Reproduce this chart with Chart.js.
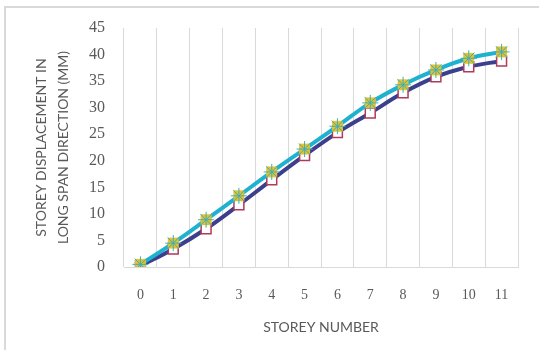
<!DOCTYPE html>
<html>
<head>
<meta charset="utf-8">
<script src="https://cdn.jsdelivr.net/npm/chart.js@4/dist/chart.umd.min.js"></script>
<style>
  body { margin: 0; background: #fff; }
  #wrap { width: 539px; height: 350px; position: relative; }
</style>
</head>
<body>
<div id="wrap"><canvas id="grafica" width="539" height="350"></canvas></div>
<script>
// datos
const storeys = ["0", "1", "2", "3", "4", "5", "6", "7", "8", "9", "10", "11"];
const dispCyan = [0.5, 4.5, 8.9, 13.4, 17.9, 22.2, 26.5, 30.9, 34.3, 37.1, 39.3, 40.5];
const dispNavy = [0.2, 3.4, 7.2, 11.7, 16.4, 21.0, 25.3, 29.0, 32.8, 35.8, 37.7, 38.8];
const yTicks = [0, 5, 10, 15, 20, 25, 30, 35, 40, 45];

const grisTexto = "#595959";

// marco gris a la izquierda y arriba
const marco = {
  id: "marco",
  beforeDraw(chart) {
    const c = chart.ctx;
    c.save();
    c.fillStyle = "#fff";
    c.fillRect(0, 0, chart.width, chart.height);
    c.strokeStyle = "#d9d9d9";
    c.lineWidth = 2;
    c.beginPath();
    c.moveTo(5, chart.height);
    c.lineTo(5, 7);
    c.lineTo(chart.width, 7);
    c.stroke();
    c.restore();
  }
};

const config = {
  type: "line",
  data: {
    labels: storeys,
    datasets: [
      {
        label: "Serie 1",
        data: dispNavy,
        borderColor: "#3b3f8c",
        borderWidth: 4,
        tension: 0.4,
        pointStyle: "rect",
        pointRadius: 7,
        pointBackgroundColor: "#ffffff",
        pointBorderColor: "#b03a5a",
        pointBorderWidth: 1.5,
        order: 3
      },
      {
        label: "Serie 2",
        data: dispCyan,
        borderColor: "#1fb2d0",
        borderWidth: 4,
        tension: 0.4,
        pointStyle: "rect",
        pointRadius: 7,
        pointBackgroundColor: "#e3c22b",
        pointBorderColor: "#e3c22b",
        pointBorderWidth: 1,
        order: 2
      },
      {
        label: "Serie 3",
        data: dispCyan,
        showLine: false,
        pointStyle: "star",
        pointRadius: 8,
        pointBorderColor: "#3aaec0",
        pointBorderWidth: 1,
        order: 1
      }
    ]
  },
  options: {
    responsive: false,
    animation: false,
    layout: { padding: { left: 0, right: 21, top: 28, bottom: 0 } },
    plugins: {
      legend: { display: false },
      tooltip: { enabled: false }
    },
    scales: {
      x: {
        offset: true,
        grid: { offset: true, color: "#d9d9d9", lineWidth: 1, drawTicks: false },
        border: { color: "#d9d9d9" },
        ticks: { color: grisTexto, padding: 20, font: { family: "Liberation Serif", size: 14 } },
        title: {
          display: true,
          text: "STOREY NUMBER",
          color: grisTexto,
          padding: { top: 4, bottom: 14 },
          font: { family: "Lato", size: 14 }
        },
        afterFit(scale) { scale.height = 83; }
      },
      y: {
        min: 0,
        max: 45,
        afterBuildTicks(scale) { scale.ticks = yTicks.map((v) => ({ value: v })); },
        grid: { display: false },
        border: { display: false },
        ticks: { color: grisTexto, padding: 11, font: { family: "Liberation Serif", size: 16 } },
        title: {
          display: true,
          text: ["STOREY DISPLACEMENT IN", "LONG SPAN DIRECTION (MM)"],
          color: grisTexto,
          padding: { top: 31, bottom: 0 },
          font: { family: "Lato", size: 14, lineHeight: 1.55 }
        },
        afterFit(scale) { scale.width = 124; }
      }
    }
  },
  plugins: [marco]
};

const ctx = document.getElementById("grafica").getContext("2d");
new Chart(ctx, config);
</script>
</body>
</html>
